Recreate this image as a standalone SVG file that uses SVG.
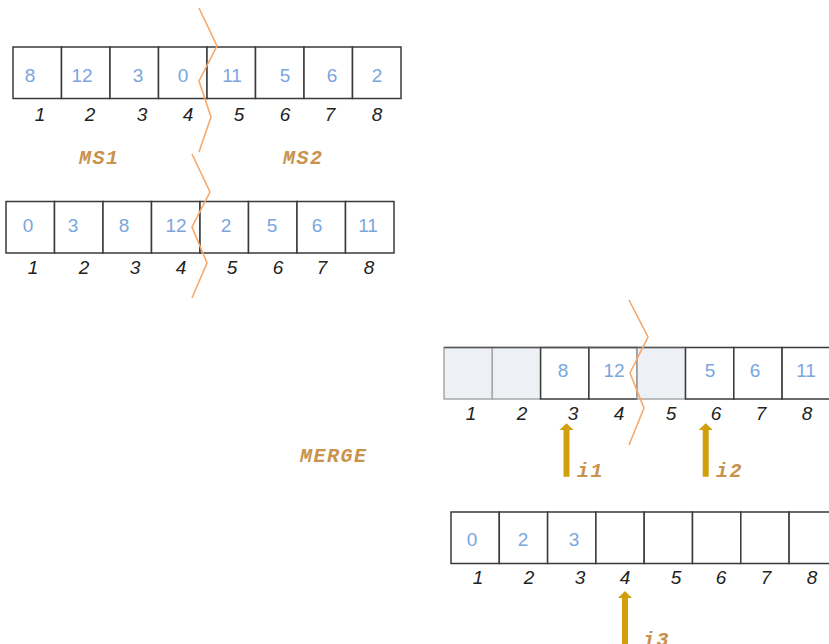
<svg xmlns="http://www.w3.org/2000/svg" width="829" height="644" viewBox="0 0 829 644">
<style>
.cell{fill:#fff;stroke:#3a3a3a;stroke-width:1.5}
.shade{fill:#edf0f5;stroke:#a8a8a8;stroke-width:1.5}
.val{font-family:"Liberation Sans",Arial,sans-serif;font-size:19px;fill:#7aa6e0;text-anchor:middle}
.idx{font-family:"Liberation Sans",Arial,sans-serif;font-size:19px;font-style:italic;fill:#222;text-anchor:middle}
.lbl{font-family:"Liberation Mono","Courier New",monospace;font-size:20px;font-weight:bold;font-style:italic;fill:#c9924d;letter-spacing:1.5px}
.zig{fill:none;stroke:#f6a86a;stroke-width:1.6;stroke-linejoin:miter}
.ptr{fill:#d29f0c}
</style>
<rect width="829" height="644" fill="#fff"/>

<g id="array1">
<rect class="cell" x="13" y="47" width="48.5" height="51.5"/>
<rect class="cell" x="61.5" y="47" width="48.5" height="51.5"/>
<rect class="cell" x="110" y="47" width="48.5" height="51.5"/>
<rect class="cell" x="158.5" y="47" width="48.5" height="51.5"/>
<rect class="cell" x="207" y="47" width="48.5" height="51.5"/>
<rect class="cell" x="255.5" y="47" width="48.5" height="51.5"/>
<rect class="cell" x="304" y="47" width="48.5" height="51.5"/>
<rect class="cell" x="352.5" y="47" width="48.5" height="51.5"/>
<text class="val" x="30" y="82">8</text>
<text class="val" x="82" y="82">12</text>
<text class="val" x="138" y="82">3</text>
<text class="val" x="183" y="82">0</text>
<text class="val" x="232" y="82">11</text>
<text class="val" x="285" y="82">5</text>
<text class="val" x="332" y="82">6</text>
<text class="val" x="377" y="82">2</text>
<text class="idx" x="40" y="120.5">1</text>
<text class="idx" x="90" y="120.5">2</text>
<text class="idx" x="142" y="120.5">3</text>
<text class="idx" x="188" y="120.5">4</text>
<text class="idx" x="239" y="120.5">5</text>
<text class="idx" x="285" y="120.5">6</text>
<text class="idx" x="330" y="120.5">7</text>
<text class="idx" x="377" y="120.5">8</text>
</g>

<g id="label-ms1"><text class="lbl" x="79" y="164">MS1</text></g>
<g id="label-ms2"><text class="lbl" x="283" y="164">MS2</text></g>

<g id="array2">
<rect class="cell" x="6" y="201.5" width="48.5" height="51.5"/>
<rect class="cell" x="54.5" y="201.5" width="48.5" height="51.5"/>
<rect class="cell" x="103" y="201.5" width="48.5" height="51.5"/>
<rect class="cell" x="151.5" y="201.5" width="48.5" height="51.5"/>
<rect class="cell" x="200" y="201.5" width="48.5" height="51.5"/>
<rect class="cell" x="248.5" y="201.5" width="48.5" height="51.5"/>
<rect class="cell" x="297" y="201.5" width="48.5" height="51.5"/>
<rect class="cell" x="345.5" y="201.5" width="48.5" height="51.5"/>
<text class="val" x="28" y="232">0</text>
<text class="val" x="73" y="232">3</text>
<text class="val" x="124" y="232">8</text>
<text class="val" x="176" y="232">12</text>
<text class="val" x="226" y="232">2</text>
<text class="val" x="272" y="232">5</text>
<text class="val" x="317" y="232">6</text>
<text class="val" x="368" y="232">11</text>
<text class="idx" x="33" y="273.5">1</text>
<text class="idx" x="84" y="273.5">2</text>
<text class="idx" x="135" y="273.5">3</text>
<text class="idx" x="181" y="273.5">4</text>
<text class="idx" x="232" y="273.5">5</text>
<text class="idx" x="278" y="273.5">6</text>
<text class="idx" x="322" y="273.5">7</text>
<text class="idx" x="369" y="273.5">8</text>
</g>

<g id="label-merge"><text class="lbl" x="300" y="462">MERGE</text></g>

<g id="array3">
<rect class="shade" x="444" y="347.5" width="48.3" height="51.5"/>
<rect class="shade" x="492.3" y="347.5" width="48.3" height="51.5"/>
<rect class="cell" x="540.6" y="347.5" width="48.3" height="51.5"/>
<rect class="cell" x="588.9" y="347.5" width="48.3" height="51.5"/>
<rect class="shade" x="637.2" y="347.5" width="48.3" height="51.5"/>
<rect class="cell" x="685.5" y="347.5" width="48.3" height="51.5"/>
<rect class="cell" x="733.8" y="347.5" width="48.3" height="51.5"/>
<rect class="cell" x="782.1" y="347.5" width="48.3" height="51.5"/>
<line x1="444" y1="347.5" x2="637.2" y2="347.5" stroke="#555" stroke-width="1.5"/>
<line x1="637.2" y1="347.5" x2="685.5" y2="347.5" stroke="#555" stroke-width="1.5"/>
<text class="val" x="563" y="377">8</text>
<text class="val" x="614" y="377">12</text>
<text class="val" x="710" y="377">5</text>
<text class="val" x="755" y="377">6</text>
<text class="val" x="806" y="377">11</text>
<text class="idx" x="471" y="419.5">1</text>
<text class="idx" x="522" y="419.5">2</text>
<text class="idx" x="573" y="419.5">3</text>
<text class="idx" x="619" y="419.5">4</text>
<text class="idx" x="671" y="419.5">5</text>
<text class="idx" x="716" y="419.5">6</text>
<text class="idx" x="761" y="419.5">7</text>
<text class="idx" x="807" y="419.5">8</text>
</g>

<g id="array4">
<rect class="cell" x="451" y="512" width="48.3" height="51.5"/>
<rect class="cell" x="499.3" y="512" width="48.3" height="51.5"/>
<rect class="cell" x="547.6" y="512" width="48.3" height="51.5"/>
<rect class="cell" x="595.9" y="512" width="48.3" height="51.5"/>
<rect class="cell" x="644.2" y="512" width="48.3" height="51.5"/>
<rect class="cell" x="692.5" y="512" width="48.3" height="51.5"/>
<rect class="cell" x="740.8" y="512" width="48.3" height="51.5"/>
<rect class="cell" x="789.1" y="512" width="48.3" height="51.5"/>
<text class="val" x="472" y="546">0</text>
<text class="val" x="523" y="546">2</text>
<text class="val" x="574" y="546">3</text>
<text class="idx" x="478" y="584">1</text>
<text class="idx" x="529" y="584">2</text>
<text class="idx" x="580" y="584">3</text>
<text class="idx" x="625" y="584">4</text>
<text class="idx" x="676" y="584">5</text>
<text class="idx" x="721" y="584">6</text>
<text class="idx" x="766" y="584">7</text>
<text class="idx" x="812" y="584">8</text>
</g>

<g id="connectors">
<polyline class="zig" points="199,8 217,46 199,81 211,117 199,152"/>
<polyline class="zig" points="192,154 210,192 192,227 207,263 192,298"/>
<polyline class="zig" points="629,300 648,337 630,373 644,408 629,445"/>
<path class="ptr" d="M566.5,423.3 L573.5,430 L569.5,430 L569.5,476.7 L563.5,476.7 L563.5,430 L559.5,430 Z"/>
<path class="ptr" d="M705.7,423.3 L712.7,430 L708.7,430 L708.7,476.7 L702.7,476.7 L702.7,430 L698.7,430 Z"/>
<path class="ptr" d="M625,591 L632,598 L628,598 L628,650 L622,650 L622,598 L618,598 Z"/>
</g>
<g id="label-i1"><text class="lbl" x="577" y="477">i1</text></g>
<g id="label-i2"><text class="lbl" x="716" y="477">i2</text></g>
<g id="label-i3"><text class="lbl" x="643" y="646">i3</text></g>
</svg>
